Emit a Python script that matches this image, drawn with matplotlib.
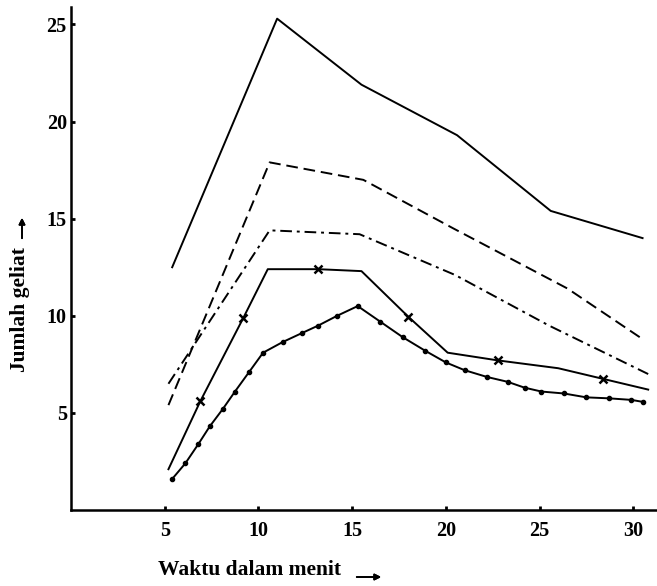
import matplotlib.pyplot as plt

# time (minutes) and count values
top_x = [5.4, 11.0, 15.5, 20.6, 25.6, 30.5]
top_y = [12.5, 25.3, 21.9, 19.3, 15.4, 14.0]

dash_x = [5.2, 10.6, 15.6, 20.4, 26.5, 30.5]
dash_y = [5.4, 17.9, 17.0, 14.5, 11.4, 8.8]

dashdot_x = [5.2, 10.6, 15.4, 20.5, 25.5, 30.8]
dashdot_y = [6.5, 14.4, 14.2, 12.1, 9.5, 7.0]

cross_x = [5.2, 6.9, 9.2, 10.5, 13.2, 15.5, 18.0, 20.1, 22.8, 26.0, 28.4, 30.8]
cross_y = [2.1, 5.6, 9.9, 12.4, 12.4, 12.3, 9.95, 8.1, 7.7, 7.3, 6.75, 6.2]
cross_marks = [1, 2, 4, 6, 8, 10]

dot_x = [5.4, 6.1, 6.8, 7.4, 8.1, 8.75, 9.5, 10.25, 11.3, 12.3, 13.2, 14.2, 15.3,
         16.5, 17.7, 18.9, 20.0, 21.0, 22.2, 23.3, 24.2, 25.1, 26.3, 27.5, 28.7, 29.9, 30.5]
dot_y = [1.6, 2.4, 3.4, 4.3, 5.2, 6.1, 7.1, 8.1, 8.65, 9.1, 9.5, 10.0, 10.5,
         9.7, 8.9, 8.2, 7.6, 7.2, 6.85, 6.6, 6.3, 6.1, 6.0, 5.8, 5.75, 5.67, 5.57]

xticks = [5, 10, 15, 20, 25, 30]
yticks = [5, 10, 15, 20, 25]

serif = ['Liberation Serif', 'DejaVu Serif']
plt.rcParams['font.family'] = serif

fig = plt.figure(figsize=(6.57, 5.86), dpi=100)
ax = fig.add_axes([71 / 657, 76 / 586, (657 - 71) / 657, (510 - 7) / 586])

lw = 1.4
ax.plot(top_x, top_y, color='black', lw=lw)
ax.plot(dash_x, dash_y, color='black', lw=lw, dashes=(6, 3))
ax.plot(dashdot_x, dashdot_y, color='black', lw=lw, dashes=(6, 2.5, 1.5, 2.5))
ax.plot(cross_x, cross_y, color='black', lw=lw, marker='x', markersize=5.5,
        markeredgewidth=1.8, markevery=cross_marks)
ax.plot(dot_x, dot_y, color='black', lw=lw, marker='o', markersize=3)

ax.set_xlim(0, 31.27)
ax.set_ylim(0, 25.9)
ax.set_xticks(xticks)
ax.set_yticks(yticks)
ax.tick_params(axis='both', direction='in', length=3, width=2, labelsize=14.5)
ax.tick_params(axis='x', pad=8)
ax.tick_params(axis='y', pad=3)
for lab in ax.get_xticklabels() + ax.get_yticklabels():
    lab.set_fontweight('bold')

ax.spines['top'].set_visible(False)
ax.spines['right'].set_visible(False)
ax.spines['left'].set_linewidth(1.8)
ax.spines['bottom'].set_linewidth(1.8)

fig.text(158 / 657, 1 - 570 / 586, 'Waktu dalam menit', fontsize=15.5,
         fontweight='bold', ha='left', va='center')
fig.text(20 / 657, 1 - 310 / 586, 'Jumlah geliat', fontsize=15.5,
         fontweight='bold', rotation=90, ha='center', va='center')

# the two hand-drawn arrows next to the axis titles
fig.add_artist(plt.annotate('', xy=(384 / 657, 1 - 577 / 586), xytext=(354 / 657, 1 - 577 / 586),
                            xycoords='figure fraction',
                            arrowprops=dict(arrowstyle='-|>', color='black', lw=1.3,
                                            mutation_scale=9)))
fig.add_artist(plt.annotate('', xy=(22 / 657, 1 - 215 / 586), xytext=(22 / 657, 1 - 241 / 586),
                            xycoords='figure fraction',
                            arrowprops=dict(arrowstyle='-|>', color='black', lw=1.3,
                                            mutation_scale=9)))

fig.savefig('out.png', dpi=100)
